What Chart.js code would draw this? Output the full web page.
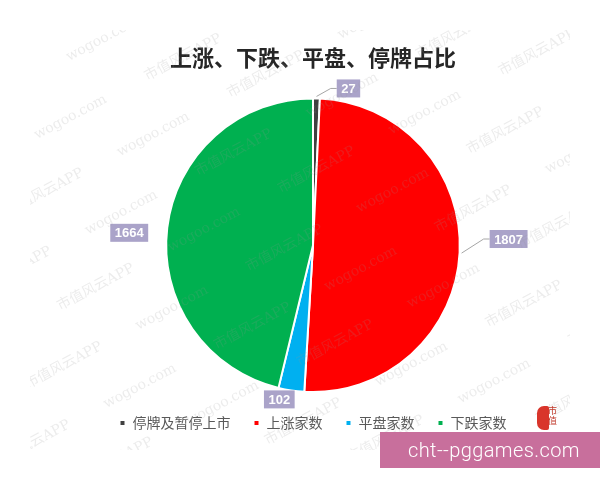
<!DOCTYPE html>
<html lang="zh">
<head>
    <meta charset="UTF-8">
    <title>上涨、下跌、平盘、停牌占比</title>
    <script src="https://cdn.jsdelivr.net/npm/chart.js"></script>
    <style>
        body { margin: 0; background: #fff; }
        .wrap { position: relative; width: 600px; height: 480px; }
        .stamp {
            position: absolute; left: 380px; top: 432px; width: 220px; height: 36px;
            background: #c86f9c; color: #fff; font: 300 20px Roboto, "Liberation Sans", sans-serif;
            line-height: 36px; padding-left: 28px; box-sizing: border-box; letter-spacing: 0.4px;
        }
        .logo {
            position: absolute; left: 537px; top: 406px; width: 12px; height: 24px;
            background: #d9352b; border-radius: 7px 2px 2px 7px;
        }
        .logo span {
            position: absolute; left: 11px; top: 0; font: 9px "Noto Sans CJK SC"; color: #c0392b;
            line-height: 10px; width: 10px;
        }
    </style>
</head>
<body>
    <div class="wrap">
        <canvas id="pieChart" width="600" height="480"></canvas>
        <div class="logo"><span>市值</span></div>
        <div class="stamp">cht--pggames.com</div>
    </div>
    <script>
        // 数据
        const categories = ['停牌及暂停上市', '上涨家数', '平盘家数', '下跌家数'];
        const counts = [27, 1807, 102, 1664];
        const sliceColors = ['#404040', '#ff0000', '#00b0f0', '#00b050'];

        // 标签相对扇区外缘中点的偏移 (dx, dy)，以及是否画引导线
        const labelShift = [[32, -10], [49, -14], [-12, 9], [-38, 5]];
        const labelLeader = [true, true, false, false];

        // 背景 + 水印
        const bgPlugin = {
            id: 'bg',
            beforeDraw(chart) {
                const c = chart.ctx;
                c.save();
                c.fillStyle = '#fff';
                c.fillRect(0, 0, chart.width, chart.height);
                c.restore();
            },
            afterDraw(chart) {
                const c = chart.ctx;
                c.save();
                c.beginPath();
                c.rect(30, 30, 540, 420);
                c.clip();
                c.translate(300, 240);
                c.rotate(-28 * Math.PI / 180);
                c.font = '14px "DejaVu Serif", "Noto Sans CJK SC"';
                c.fillStyle = 'rgba(150,150,150,0.18)';
                const words = ['市值风云APP', 'wogoo.com'];
                for (let row = -8; row <= 8; row++) {
                    let x = -560 + (row % 2) * 60;
                    let k = Math.abs(row) % 2;
                    while (x < 560) {
                        c.fillText(words[k % 2], x, row * 54);
                        x += 125;
                        k++;
                    }
                }
                c.restore();
            }
        };

        // 数据标签
        const labelPlugin = {
            id: 'boxLabels',
            afterDatasetsDraw(chart) {
                const c = chart.ctx;
                const meta = chart.getDatasetMeta(0);
                c.save();
                c.font = 'bold 13px "Liberation Sans", sans-serif';
                c.textAlign = 'center';
                c.textBaseline = 'middle';
                meta.data.forEach((arc, i) => {
                    const p = arc.getProps(['x', 'y', 'startAngle', 'endAngle', 'outerRadius'], true);
                    const mid = (p.startAngle + p.endAngle) / 2;
                    const ex = p.x + Math.cos(mid) * p.outerRadius;
                    const ey = p.y + Math.sin(mid) * p.outerRadius;
                    const bx = ex + labelShift[i][0];
                    const by = ey + labelShift[i][1];
                    const text = String(counts[i]);
                    const w = c.measureText(text).width + 9;
                    const h = 18;
                    if (labelLeader[i]) {
                        const left = bx - w / 2;
                        c.strokeStyle = '#a6a6a6';
                        c.lineWidth = 1;
                        c.beginPath();
                        c.moveTo(ex + Math.cos(mid) * 2, ey + Math.sin(mid) * 2);
                        c.lineTo(left - 6, by);
                        c.lineTo(left, by);
                        c.stroke();
                    }
                    c.fillStyle = '#aaa3c9';
                    c.fillRect(bx - w / 2, by - h / 2, w, h);
                    c.fillStyle = '#fff';
                    c.fillText(text, bx, by + 1);
                });
                c.restore();
            }
        };

        const ctx = document.getElementById('pieChart').getContext('2d');
        const pieChart = new Chart(ctx, {
            type: 'pie',
            data: {
                labels: categories,
                datasets: [{
                    data: counts,
                    backgroundColor: sliceColors,
                    borderColor: '#ffffff',
                    borderWidth: 2,
                    hoverOffset: 0
                }]
            },
            options: {
                responsive: false,
                animation: false,
                layout: { padding: { left: 26, right: 0, top: 0, bottom: 40 } },
                plugins: {
                    title: {
                        display: true,
                        text: '上涨、下跌、平盘、停牌占比',
                        color: '#262626',
                        font: { family: '"Noto Sans CJK SC"', size: 22, weight: 'bold' },
                        padding: { top: 44, bottom: 27 }
                    },
                    legend: {
                        position: 'bottom',
                        labels: {
                            color: '#595959',
                            font: { family: '"Noto Sans CJK SC"', size: 14 },
                            boxWidth: 6,
                            boxHeight: 6,
                            padding: 23
                        }
                    },
                    tooltip: { enabled: false }
                }
            },
            plugins: [bgPlugin, labelPlugin]
        });
    </script>
</body>
</html>
